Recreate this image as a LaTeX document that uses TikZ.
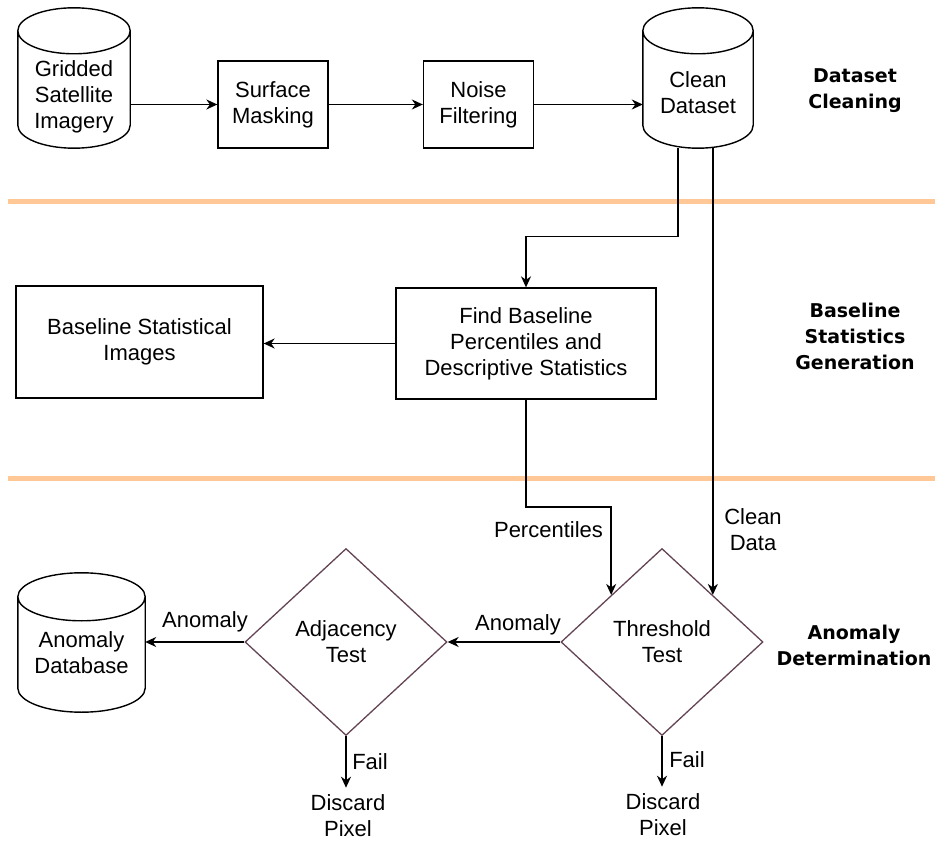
\documentclass[tikz,border=0pt]{standalone}
\usepackage{fontspec}
\setmainfont{Liberation Sans}
\newfontfamily\boldlab{DejaVu Sans}
\usetikzlibrary{arrows.meta,shapes.geometric,calc}
\definecolor{diacol}{RGB}{100,68,84}
\definecolor{sepcol}{RGB}{255,200,150}
\newcommand{\cylout}[2]{%
  \draw[line] let \p1=(#1.north west), \p2=(#1.south east), \n1={(\x2-\x1)/2} in
  (\x1,\y1-#2) -- (\x1,\y2+#2)
  arc[start angle=180,end angle=360,x radius=\n1,y radius=#2]
  -- (\x2,\y1-#2)
  arc[start angle=0,end angle=180,x radius=\n1,y radius=#2]
  arc[start angle=180,end angle=360,x radius=\n1,y radius=#2];}
\tikzset{
  line/.style={line width=1.4pt, draw=black},
  arr/.style={line, -{Stealth[length=11pt,width=10pt,inset=3.5pt]}},
  txt/.style={align=center, inner sep=0pt, font=\fontsize{22}{26}\selectfont},
  box/.style={txt, draw, line width=1.3pt, rectangle},
  cylnode/.style={rectangle, inner sep=0pt},
  dia/.style={txt, draw=diacol, line width=1.3pt, diamond, minimum width=202pt, minimum height=187pt},
  lab/.style={align=center, inner sep=0pt, font=\boldlab\bfseries\fontsize{19}{26}\selectfont},
  sep/.style={draw=sepcol, line width=5pt},
  disc/.style={txt, inner ysep=7pt}
}
\begin{document}
\begin{tikzpicture}[x=1pt,y=1pt]
\useasboundingbox (0,0) rectangle (935,-842);
% separators
\draw[sep] (8,-202) -- (935,-202);
\draw[sep] (8,-478) -- (935,-478);
% stage labels
\node[lab] (l1) at (855,-91) {Dataset\\Cleaning};
\node[lab] (l2) at (855,-336) {Baseline\\Statistics\\Generation};
\node[lab] (l3) at (854,-645) {Anomaly\\Determination};
% cylinders
\node[cylnode, minimum width=112pt, minimum height=140pt] (gsi) at (74,-78) {};
\cylout{gsi}{23pt}
\node[txt] (gsit) at (74,-97) {Gridded\\Satellite\\Imagery};
\node[cylnode, minimum width=110pt, minimum height=140pt] (cd) at (698,-78) {};
\cylout{cd}{23pt}
\node[txt] (cdt) at (698,-93) {Clean\\Dataset};
\node[cylnode, minimum width=127pt, minimum height=139pt] (adb) at (81.5,-642.5) {};
\cylout{adb}{24pt}
\node[txt] (adbt) at (81.5,-653) {Anomaly\\Database};
% boxes
\node[box, minimum width=110pt, minimum height=87pt] (sm) at (273,-104.5) {Surface\\Masking};
\node[box, minimum width=110pt, minimum height=87pt] (nf) at (478.5,-104.5) {Noise\\Filtering};
\node[box, minimum width=260pt, minimum height=111pt] (fb) at (526,-343.5) {Find Baseline\\Percentiles and\\Descriptive Statistics};
\node[box, minimum width=247pt, minimum height=112pt] (bsi) at (139.5,-342) {Baseline Statistical\\Images};
% diamonds
\node[dia] (tt) at (662,-642) {Threshold\\Test};
\node[dia] (at) at (346,-642) {Adjacency\\Test};
% discard pixels
\node[disc] (dp1) at (348,-816) {Discard\\Pixel};
\node[disc] (dp2) at (663,-815) {Discard\\Pixel};
% connectors
\draw[arr] (gsi.east |- sm.west) -- (sm.west);
\draw[arr] (sm.east) -- (nf.west);
\draw[arr] (nf.east) -- (cd.west |- nf.east);
\draw[arr] ([xshift=-20pt]cd.south) |- ([yshift=51pt]fb.north) -- (fb.north);
\draw[arr] (cd.south -| tt.north east) -- (tt.north east);
\draw[arr] (fb.west) -- (bsi.east |- fb.west);
\draw[arr] (fb.south) |- ([yshift=88pt]tt.north west) -- (tt.north west);
\draw[arr] (tt.west) -- (at.east);
\draw[arr] (at.west) -- (adb.east |- at.west);
\draw[arr] (at.south) -- (at.south |- dp1.north);
\draw[arr] (tt.south) -- (tt.south |- dp2.north);
% connector labels
\node[txt] (pl) at (548.5,-530) {Percentiles};
\node[txt] (cl) at (753,-530) {Clean\\Data};
\node[txt] (al1) at (518,-625) {Anomaly};
\node[txt] (al2) at (205,-622) {Anomaly};
\node[txt] (f1) at (370,-762) {Fail};
\node[txt] (f2) at (687,-760) {Fail};
\end{tikzpicture}
\end{document}
